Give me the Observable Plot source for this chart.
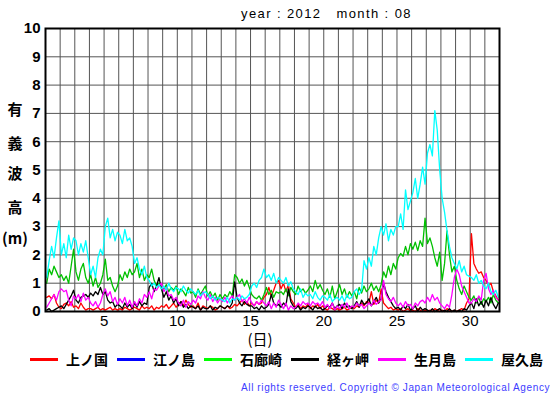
<!DOCTYPE html>
<html><head><meta charset="utf-8">
<script src="https://cdn.jsdelivr.net/npm/d3@7"></script>
<script src="https://cdn.jsdelivr.net/npm/@observablehq/plot@0.6"></script>
<style>
body{margin:0;background:#fff;}
#wrap{position:relative;width:555px;height:395px;overflow:hidden;font-family:"Liberation Sans",Arial,sans-serif;background:#fff;}
#wrap svg{position:absolute;left:0;top:0;}
.title{position:absolute;left:241px;top:6px;font-size:13px;letter-spacing:1.4px;white-space:pre;color:#000;}
.ych{position:absolute;width:30px;text-align:center;font-family:"Noto Sans CJK JP",sans-serif;font-weight:bold;font-size:15px;line-height:16px;}
.xlab{position:absolute;left:243px;top:331px;width:34px;text-align:center;font-family:"Noto Sans CJK JP",sans-serif;font-size:15px;line-height:15px;}
.leg{position:absolute;top:350px;height:18px;}
.leg .sw{position:absolute;left:0;top:8px;width:28px;height:3px;}
.leg .lb{position:absolute;left:36px;top:0;font-family:"Noto Sans CJK JP",sans-serif;font-weight:bold;font-size:14px;line-height:18px;white-space:nowrap;}
.copy{position:absolute;left:241px;top:382px;font-size:10px;letter-spacing:0.62px;color:#3c3cff;white-space:nowrap;line-height:12px;}
g[aria-label="y-axis tick label"] text{font-weight:bold;font-size:15px;}
g[aria-label="x-axis tick label"] text{font-size:15px;}
</style></head><body><div id="wrap"></div>
<script>
// categories
const stations = ["上ノ国","江ノ島","石廊崎","経ヶ岬","生月島","屋久島"];
const lineColors = ["#ff0000","#0000ff","#00c000","#000000","#ff00ff","#00ffff"];
const legendColors = ["#ff0000","#0000ff","#00ff00","#000000","#ff00ff","#00ffff"];
const xTicks = [5,10,15,20,25,30];
const yTicks = [0,1,2,3,4,5,6,7,8,9,10];
const dayLines = d3.range(1, 33);
const titleText = "year : 2012   month : 08";
const yLabel = ["有","義","波","高","(m)"];
const xLabel = "(日)";
const copyright = "All rights reserved. Copyright © Japan Meteorological Agency";

// significant wave height (m), 4-hourly (02,06,10,14,18,22h) for Aug 1..31
const kaminokuni = [
0.5,0.55,0.45,0.6,0.3,0.15, 0.1,0.25,0.3,0.2,0.35,0.15, 0.2,0.1,0.3,0.15,0.05,0.1, 0.1,0.05,0.1,0.15,0.05,0.1,
0.05,0.1,0.15,0.05,0.1,0.05, 0.1,0.05,0.15,0.1,0.05,0.1, 0.15,0.1,0.05,0.2,0.1,0.15, 0.1,0.2,0.05,0.15,0.1,0.2,
0.15,0.25,0.1,0.2,0.3,0.15, 0.25,0.35,0.2,0.4,0.25,0.15, 0.2,0.1,0.3,0.05,0.2,0.15, 0.1,0.2,0.15,0.05,0.1,0.2,
0.15,0.1,0.2,0.1,0.15,0.25, 0.2,0.3,0.4,0.25,0.35,0.2, 0.3,0.2,0.35,0.25,0.3,0.5, 0.6,0.85,0.55,0.75,1.0,1.1,
0.8,1.0,0.7,0.95,0.45,0.3, 0.15,0.25,0.1,0.2,0.15,0.25, 0.1,0.2,0.15,0.25,0.1,0.2, 0.1,0.05,0.15,0.1,0.05,0.1,
0.05,0.1,0.15,0.05,0.1,0.15, 0.1,0.2,0.15,0.3,0.2,0.35, 0.3,0.7,0.25,0.4,0.3,0.8, 0.3,0.2,0.1,0.15,0.05,0.1,
0.05,0.1,0.0,0.05,0.1,0.0, 0.05,0.0,0.1,0.05,0.0,0.05, 0.0,0.05,0.0,0.1,0.05,0.0, 0.05,0.0,0.1,0.05,0.0,0.05,
0.0,0.05,0.1,0.05,0.3,0.45, 2.75,1.7,1.5,1.35,1.4,1.2, 1.1,0.9,1.0,0.7,0.55,0.4];
const enoshima = []; // no observations this month
const irozaki = [
1.0,1.5,1.3,1.6,1.4,1.2, 1.3,1.1,1.25,1.0,1.6,2.2, 1.4,1.1,1.5,1.7,1.2,1.0, 1.3,0.9,1.2,0.85,1.0,1.3,
1.85,1.1,1.2,0.9,0.7,0.9, 1.3,1.1,1.4,1.2,1.5,1.3, 1.4,1.7,1.2,1.5,1.1,1.3, 1.2,1.5,1.1,0.9,1.0,0.85,
0.8,0.95,0.7,0.85,0.75,0.9, 0.6,0.8,0.7,0.55,0.85,0.65, 0.7,0.5,0.8,0.6,0.75,0.9, 0.55,0.7,0.5,0.65,0.4,0.6,
0.45,0.6,0.5,0.7,0.55,1.3, 1.2,1.0,1.15,0.9,1.1,0.85, 0.6,0.5,0.45,0.55,0.4,0.6, 0.85,0.6,0.75,0.5,0.7,0.65,
0.7,0.6,0.8,0.55,0.85,0.7, 0.6,0.9,0.7,0.8,0.65,0.75, 0.9,0.7,1.1,0.8,0.95,0.75, 0.6,0.8,0.5,0.9,0.45,0.7,
0.95,0.6,0.8,0.5,0.7,0.55, 0.7,0.45,0.85,0.65,0.9,0.7, 0.8,1.0,0.75,0.9,0.7,0.95, 1.4,1.2,1.6,1.3,1.7,1.5,
1.9,2.05,1.95,2.3,2.0,2.4, 2.2,2.45,2.15,2.5,2.3,3.3, 2.4,2.6,2.3,1.9,1.6,2.1, 1.1,1.7,2.85,2.0,1.4,1.6,
1.1,0.8,0.6,0.9,0.7,0.5, 0.4,0.55,0.3,0.5,0.25,0.45, 0.35,0.5,0.3,0.6,0.4,0.3];
const kyogamisaki = [
0.05,0.1,0.0,0.05,0.1,0.15, 0.2,0.1,0.25,0.4,0.55,0.75, 0.4,0.3,0.5,0.55,0.6,0.5, 0.65,0.55,0.7,0.6,0.85,0.6,
0.7,0.4,0.3,0.35,0.15,0.25, 0.2,0.1,0.3,0.15,0.25,0.1, 0.3,0.15,0.35,0.2,0.3,0.25, 0.85,1.0,0.7,0.9,1.2,0.8,
0.5,0.7,0.4,0.55,0.3,0.45, 0.2,0.35,0.15,0.25,0.1,0.2, 0.15,0.1,0.2,0.05,0.15,0.1, 0.1,0.2,0.05,0.15,0.1,0.2,
0.15,0.1,0.2,0.15,0.3,1.05, 0.5,0.3,0.2,0.35,0.25,0.2, 0.2,0.1,0.15,0.05,0.2,0.1, 0.15,0.25,0.6,0.3,0.2,0.25,
0.15,0.3,0.2,0.8,0.35,0.2, 0.1,0.2,0.05,0.15,0.1,0.2, 0.15,0.05,0.2,0.1,0.15,0.05, 0.1,0.2,0.15,0.3,0.1,0.2,
0.25,0.1,0.3,0.15,0.2,0.1, 0.2,0.35,0.15,0.4,0.25,0.3, 0.45,0.2,0.35,0.5,0.3,0.45, 1.0,0.7,0.5,0.35,0.2,0.1,
0.15,0.05,0.2,0.1,0.25,0.05, 0.1,0.2,0.0,0.15,0.05,0.1, 0.05,0.0,0.1,0.0,0.05,0.1, 0.0,0.05,0.0,0.1,0.0,0.05,
0.0,0.05,0.0,0.1,0.05,0.2, 0.3,0.1,0.45,0.2,0.35,0.15, 0.4,0.2,0.5,0.25,0.1,0.3];
const ikitsukishima = [
0.15,0.3,0.45,0.6,0.4,0.7, 0.8,0.7,0.75,0.4,0.2,0.55, 0.45,0.6,0.35,0.65,0.4,0.5, 0.3,0.2,0.35,0.15,0.3,0.6,
0.8,0.55,0.7,0.35,0.5,0.25, 0.45,0.3,0.5,0.2,0.4,0.15, 0.35,0.2,0.45,0.3,0.6,0.5, 0.7,0.45,0.8,0.75,0.9,1.0,
0.7,0.85,0.55,0.6,0.4,0.5, 0.3,0.2,0.4,0.15,0.35,0.25, 0.4,0.3,0.55,0.45,0.7,0.5, 0.4,0.6,0.35,0.5,0.3,0.45,
0.35,0.5,0.3,0.45,0.55,0.4, 0.5,0.6,0.35,0.45,0.3,0.5, 0.3,0.2,0.35,0.25,0.4,0.3, 0.2,0.35,0.1,0.3,0.15,0.4,
0.25,0.1,0.3,0.05,0.2,0.1, 0.15,0.3,0.2,0.35,0.25,0.3, 0.2,0.35,0.25,0.3,0.2,0.35, 0.15,0.25,0.1,0.3,0.05,0.2,
0.1,0.25,0.15,0.3,0.1,0.2, 0.15,0.3,0.2,0.25,0.1,0.2, 0.3,0.2,0.4,0.25,0.35,0.4, 1.1,0.6,0.45,0.35,0.5,0.3,
0.2,0.3,0.15,0.35,0.2,0.25, 0.1,0.3,0.2,0.35,0.4,0.3, 0.5,0.35,0.6,0.4,0.5,0.3, 0.2,0.1,0.25,0.15,0.6,1.2,
1.5,1.3,0.9,0.7,0.5,0.3, 0.3,0.45,0.35,0.55,0.4,1.1, 1.35,0.8,0.6,0.75,0.5,0.4];
const yakushima = [
1.2,1.8,2.3,1.9,2.6,3.2, 2.0,2.4,1.9,2.7,2.2,2.6, 2.5,2.0,2.4,2.1,2.5,1.9, 1.3,1.6,1.2,1.9,2.2,2.0,
3.0,3.3,2.6,2.9,2.5,2.8, 2.7,2.4,2.9,2.5,2.6,2.3, 1.7,1.9,1.5,1.3,1.6,1.2, 1.1,0.9,1.0,0.85,0.95,0.8,
0.9,0.75,1.0,0.8,0.7,0.85, 0.8,0.7,0.9,0.75,0.65,0.8, 0.7,0.6,0.75,0.55,0.65,0.7, 0.6,0.45,0.55,0.4,0.5,0.45,
0.4,0.35,0.5,0.3,0.45,0.4, 0.5,0.4,0.55,0.45,0.5,0.6, 0.9,1.0,0.85,1.1,1.2,1.5, 1.2,1.3,1.1,1.35,1.0,1.2,
1.1,1.0,1.2,0.9,1.05,0.8, 0.7,0.6,0.8,0.5,0.65,0.55, 0.6,0.45,0.7,0.5,0.4,0.55, 0.5,0.4,0.6,0.35,0.45,0.5,
0.4,0.55,0.35,0.6,0.45,0.5, 0.7,0.8,0.6,0.75,1.8,1.5, 1.9,1.6,2.3,2.0,2.6,3.0, 2.7,3.1,2.5,2.9,2.7,3.0,
3.0,3.45,2.9,4.3,3.6,3.9, 4.2,4.7,4.0,4.5,5.1,4.5, 5.6,5.9,5.5,7.1,6.4,5.0, 4.0,3.5,2.85,2.3,1.9,1.7,
1.5,1.8,1.4,1.6,1.3,1.25, 1.2,1.1,1.3,1.0,1.1,0.9, 0.8,1.0,0.7,0.6,0.75,0.5];

const series = [kaminokuni, enoshima, irozaki, kyogamisaki, ikitsukishima, yakushima];
const toRows = (vals) => vals.map((v, i) => ({t: 1 + (2 + 4 * i) / 24, v}));

const wrap = document.getElementById("wrap");

const marks = [
  Plot.ruleX(dayLines, {stroke: "#555", strokeWidth: 1}),
  Plot.ruleY(yTicks, {stroke: "#555", strokeWidth: 1}),
  ...series.map((vals, k) => Plot.line(toRows(vals), {x: "t", y: "v", stroke: lineColors[k], strokeWidth: 1.3})),
  Plot.axisX(xTicks, {tickSize: 0, tickPadding: 4, label: null, fontSize: 15}),
  Plot.axisY(yTicks, {tickSize: 0, tickPadding: 5, label: null, fontSize: 15, fontWeight: "bold"}),
  Plot.frame({stroke: "#000", strokeWidth: 2})
];

const chart = Plot.plot({
  width: 555, height: 395,
  marginTop: 28, marginLeft: 45, marginRight: 56, marginBottom: 84,
  style: {fontFamily: "Liberation Sans, Arial, sans-serif", color: "#000", background: "transparent"},
  x: {domain: [1, 32]},
  y: {domain: [0, 10]},
  marks
});
wrap.appendChild(chart);

const title = document.createElement("div");
title.className = "title"; title.textContent = titleText; wrap.appendChild(title);

const yTops = [101, 135, 165, 199, 230];
yLabel.forEach((c, i) => {
  const d = document.createElement("div");
  d.className = "ych"; d.textContent = c;
  d.style.left = "0px"; d.style.top = yTops[i] + "px";
  wrap.appendChild(d);
});

const xl = document.createElement("div");
xl.className = "xlab"; xl.textContent = xLabel; wrap.appendChild(xl);

stations.forEach((s, i) => {
  const g = document.createElement("div");
  g.className = "leg"; g.style.left = (30 + i * 87) + "px";
  const sw = document.createElement("div"); sw.className = "sw"; sw.style.background = legendColors[i];
  const lb = document.createElement("div"); lb.className = "lb"; lb.textContent = s;
  g.appendChild(sw); g.appendChild(lb); wrap.appendChild(g);
});

const cp = document.createElement("div");
cp.className = "copy"; cp.textContent = copyright; wrap.appendChild(cp);
</script>
</body></html>
